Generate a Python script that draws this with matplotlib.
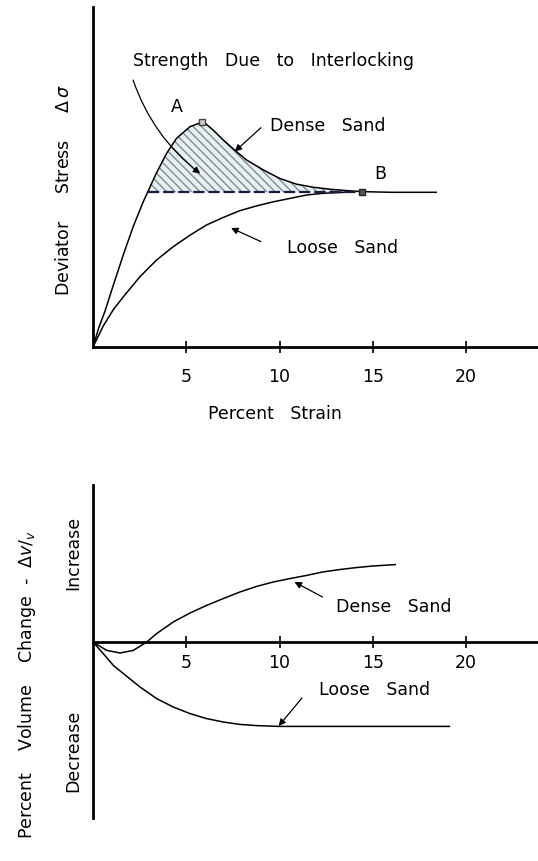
import matplotlib
matplotlib.use("Agg")
import matplotlib.pyplot as plt

# stress-strain (upper panel), stress in arbitrary units
dense_strain = [0, 0.3, 0.64, 1.09, 1.63, 2.16, 2.70, 2.95, 3.41, 3.95, 4.48, 5.20,
                5.91, 6.44, 6.98, 7.70, 8.23, 9.12, 10.0, 10.9, 11.8, 12.7,
                13.6, 14.4, 16.0, 18.4]
dense_stress = [0, 0.55, 1.05, 1.82, 2.72, 3.55, 4.28, 4.58, 5.13, 5.70, 6.14, 6.48,
                6.63, 6.38, 6.09, 5.74, 5.50, 5.21, 4.96, 4.79, 4.70, 4.64,
                4.60, 4.57, 4.55, 4.55]
loose_strain = [0, 0.55, 1.09, 1.63, 2.52, 3.41, 4.30, 5.20, 6.09, 6.98, 7.87,
                8.77, 9.66, 10.55, 11.45, 12.3, 13.5]
loose_stress = [0, 0.62, 1.10, 1.48, 2.07, 2.56, 2.95, 3.29, 3.59, 3.81, 4.01,
                4.15, 4.27, 4.37, 4.47, 4.52, 4.55]
residual_stress = 4.55
residual_from, residual_to = 2.95, 14.4
peak_pt = (5.85, 6.63)
b_pt = (14.4, 4.55)

# volume change (lower panel)
dense_vol_strain = [0, 0.73, 1.45, 2.16, 2.88, 3.41, 4.30, 5.2, 6.09, 6.98, 7.87,
                    8.77, 9.66, 10.55, 11.45, 12.3, 13.2, 14.1, 15.0, 16.2]
dense_vol = [0, -0.42, -0.55, -0.42, 0, 0.42, 1.0, 1.45, 1.83, 2.17, 2.5,
             2.78, 3.0, 3.17, 3.33, 3.5, 3.62, 3.72, 3.8, 3.87]
loose_vol_strain = [0, 0.55, 1.09, 1.63, 2.52, 3.41, 4.30, 5.2, 6.09, 6.98, 7.87,
                    8.77, 10.0, 19.1]
loose_vol = [0, -0.58, -1.17, -1.58, -2.25, -2.83, -3.25, -3.58, -3.83, -4.0,
             -4.12, -4.18, -4.22, -4.22]

xticks = [5, 10, 15, 20]
xticklabels = ["5", "10", "15", "20"]

W, H = 538, 861
FS = 12.5
fig = plt.figure(figsize=(W / 100, H / 100), dpi=100)


def frac(x0, y_top, x1, y_bot):
    return [x0 / W, 1 - y_bot / H, (x1 - x0) / W, (y_bot - y_top) / H]


def style(ax, pad):
    for s in ("top", "right"):
        ax.spines[s].set_visible(False)
    for s in ("left", "bottom"):
        ax.spines[s].set_linewidth(2.0)
    ax.set_xticks(xticks)
    ax.set_xticklabels(xticklabels, fontsize=FS)
    ax.set_yticks([])
    ax.tick_params(axis="x", direction="inout", length=8, width=1.2, pad=pad,
                   labelsize=FS)


arrow = dict(arrowstyle="-|>", lw=0.9, color="black", mutation_scale=10,
             shrinkA=0, shrinkB=0)

# ---- upper panel
ax1 = fig.add_axes(frac(93, 7, 538, 347))
ax1.set_xlim(0, 23.85)
ax1.set_ylim(0, 10)
style(ax1, 11)

hx = [x for x in dense_strain if residual_from <= x <= residual_to]
hy = [y for x, y in zip(dense_strain, dense_stress) if residual_from <= x <= residual_to]
ax1.fill_between(hx, hy, residual_stress, facecolor="#e8f0ee", edgecolor="#7d8aa0",
                 hatch="\\\\\\\\", linewidth=0)
ax1.plot(dense_strain, dense_stress, color="black", lw=1.1)
ax1.plot(loose_strain, loose_stress, color="black", lw=1.1)
ax1.plot([residual_from, residual_to], [residual_stress] * 2, color="#1a1a40",
         lw=1.6, ls=(0, (5, 1.8)))
ax1.plot(*peak_pt, marker="s", ms=4, color="#444", mfc="#ccc")
ax1.plot(*b_pt, marker="s", ms=4, color="#222", mfc="#555")

ax1.text(2.15, 8.4, "Strength   Due   to   Interlocking", fontsize=FS, va="center")
ax1.annotate("", xy=(5.75, 5.1), xytext=(2.15, 7.85),
             arrowprops=dict(arrow, connectionstyle="arc3,rad=0.15"))
ax1.text(4.5, 7.05, "A", fontsize=FS, ha="center", va="center")
ax1.text(15.4, 5.1, "B", fontsize=FS, ha="center", va="center")
ax1.text(9.5, 6.5, "Dense   Sand", fontsize=FS, va="center")
ax1.annotate("", xy=(7.6, 5.75), xytext=(9.0, 6.45), arrowprops=arrow)
ax1.text(10.4, 2.9, "Loose   Sand", fontsize=FS, va="center")
ax1.annotate("", xy=(7.4, 3.5), xytext=(9.0, 3.1), arrowprops=arrow)
ax1.set_xlabel("Percent   Strain", fontsize=FS)
ax1.xaxis.set_label_coords((275 - 93) / 445, -(405 - 347) / 340)
ax1.set_ylabel("Deviator     Stress     $\\Delta\\,\\sigma$", fontsize=FS)
ax1.yaxis.set_label_coords(-(93 - 73) / 445, (347 - 190) / 340)

# ---- lower panel
ax2 = fig.add_axes(frac(93, 485, 538, 818))
ax2.spines["bottom"].set_position(("data", 0))
ax2.set_xlim(0, 23.85)
ax2.set_ylim(-8.8, 7.85)
style(ax2, 5)
ax2.plot(dense_vol_strain, dense_vol, color="black", lw=1.1)
ax2.plot(loose_vol_strain, loose_vol, color="black", lw=1.1)

ax2.text(13.0, 1.75, "Dense   Sand", fontsize=FS, va="center")
ax2.annotate("", xy=(10.8, 3.0), xytext=(12.3, 2.25), arrowprops=arrow)
ax2.text(12.1, -2.4, "Loose   Sand", fontsize=FS, va="center")
ax2.annotate("", xy=(9.95, -4.2), xytext=(11.2, -2.8), arrowprops=arrow)
ax2.text(-(93 - 73) / 18.67, (642 - 553) / 20, "Increase", fontsize=FS,
         rotation=90, ha="center", va="center")
ax2.text(-(93 - 73) / 18.67, (642 - 751) / 20, "Decrease", fontsize=FS,
         rotation=90, ha="center", va="center")
ax2.set_ylabel("Percent    Volume    Change  -  $\\Delta v/_{v}$", fontsize=FS)
ax2.yaxis.set_label_coords(-(93 - 38) / 445, (818 - 685) / 333)

fig.savefig("out.png", dpi=100)
